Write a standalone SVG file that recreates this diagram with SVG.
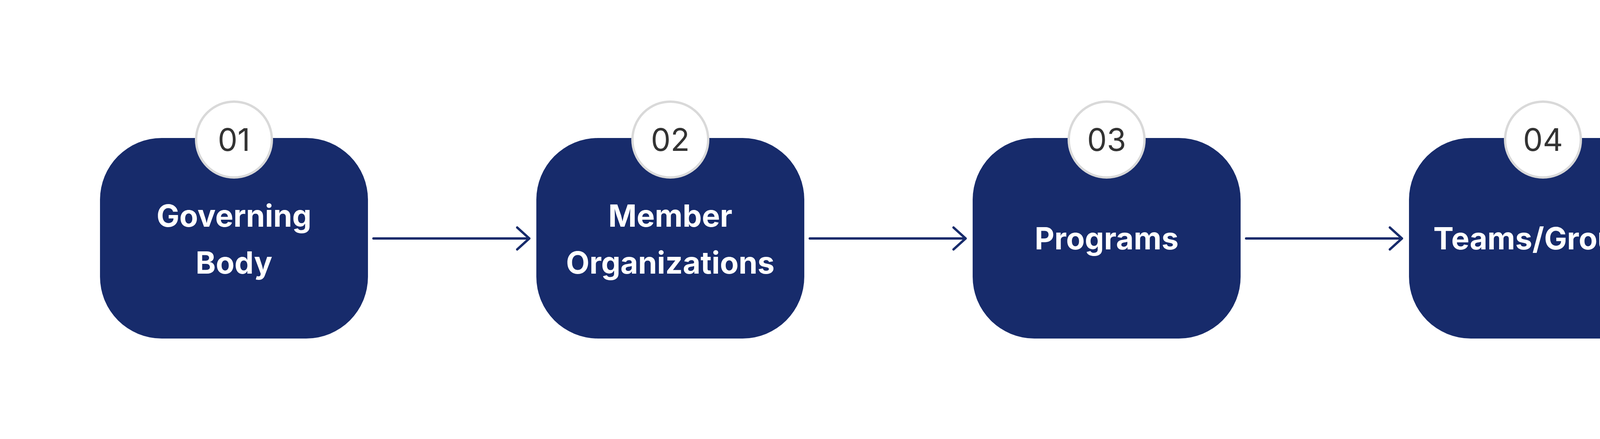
<svg xmlns="http://www.w3.org/2000/svg" width="5519" height="1123" viewBox="0 0 5519 1123">
<style>
.box{fill:#172b6b}
.badge{fill:#fff;stroke:#d9d9d9;stroke-width:6}
.num{font-family:Inter,"Liberation Sans",sans-serif;font-size:80px;fill:#333;text-anchor:middle}
.lbl{font-family:Inter,"Liberation Sans",sans-serif;font-size:78px;font-weight:700;fill:#fff;text-anchor:middle}
.c{fill:none;stroke:#172b6b;stroke-width:6;stroke-linecap:round;stroke-linejoin:round}
.g{stroke:#767b87}
</style>
<rect width="5519" height="1123" fill="#fff"/>
<g id="connectors">
<path class="c" d="M956 610H1355M1324 582L1355 610L1324 638"/>
<path class="c" d="M2073 610H2472M2441 582L2472 610L2441 638"/>
<path class="c" d="M3190 610H3589M3558 582L3589 610L3558 638"/>
<path class="c g" d="M4303 610H4562M4531 582L4562 610L4531 638"/>
</g>
<g id="n1"><rect class="box" x="256" y="353" width="686" height="513" rx="158"/><circle class="badge" cx="599" cy="357" r="97"/><text class="num" x="599" y="386">01</text><text class="lbl" x="599" y="580">Governing</text><text class="lbl" x="599" y="700">Body</text></g>
<g id="n2"><rect class="box" x="1373" y="353" width="686" height="513" rx="158"/><circle class="badge" cx="1716" cy="357" r="97"/><text class="num" x="1716" y="386">02</text><text class="lbl" x="1716" y="580">Member</text><text class="lbl" x="1716" y="700">Organizations</text></g>
<g id="n3"><rect class="box" x="2490" y="353" width="686" height="513" rx="158"/><circle class="badge" cx="2833" cy="357" r="97"/><text class="num" x="2833" y="386">03</text><text class="lbl" x="2833" y="638">Programs</text></g>
<g id="n4"><rect class="box" x="3607" y="353" width="686" height="513" rx="158"/><circle class="badge" cx="3950" cy="357" r="97"/><text class="num" x="3950" y="386">04</text><text class="lbl" x="3950" y="638">Teams/Groups</text></g>
<g id="n5"><rect class="box" x="4576" y="353" width="686" height="513" rx="158"/><circle class="badge" cx="4919" cy="357" r="97"/><text class="num" x="4919" y="386">05</text><text class="lbl" x="4919" y="638">Participants</text></g>
</svg>
